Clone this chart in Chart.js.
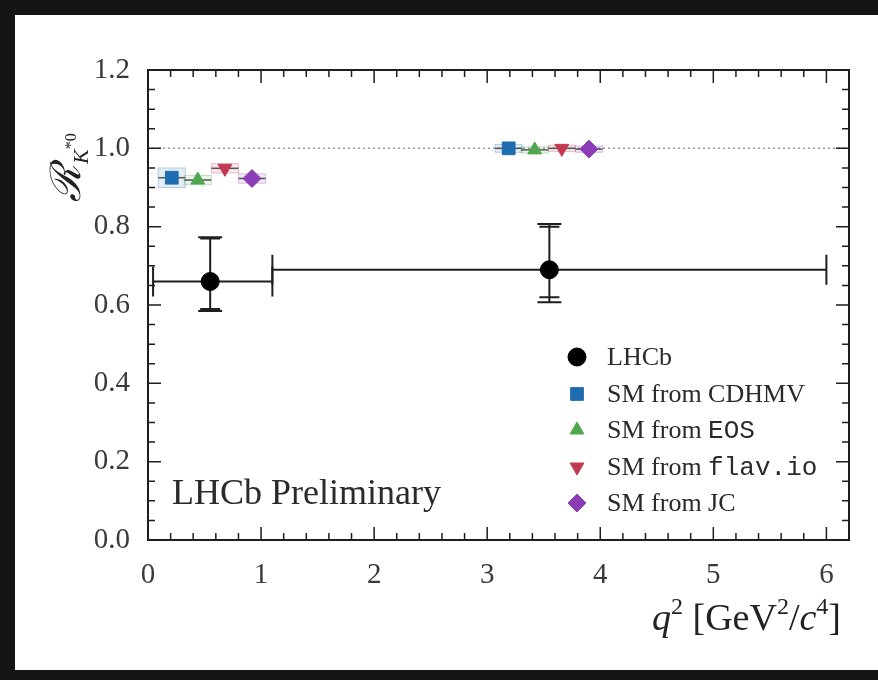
<!DOCTYPE html>
<html>
<head>
<meta charset="utf-8">
<script src="https://cdn.jsdelivr.net/npm/chart.js@4.4.1/dist/chart.umd.min.js"></script>
<style>
  html, body { margin: 0; padding: 0; background: #141414; }
  #wrap { width: 878px; height: 680px; }
</style>
</head>
<body>
<div id="wrap"><canvas id="c" width="878" height="680"></canvas></div>
<script>
// ---------- data ----------
const xTickValues = [0, 1, 2, 3, 4, 5, 6];
const xTickLabels = ['0', '1', '2', '3', '4', '5', '6'];
const yTickValues = [0.0, 0.2, 0.4, 0.6, 0.8, 1.0, 1.2];
const yTickLabels = ['0.0', '0.2', '0.4', '0.6', '0.8', '1.0', '1.2'];

// LHCb measurement
const lhcbQ2     = [0.55, 3.55];
const lhcbQ2Lo   = [0.045, 1.1];
const lhcbQ2Hi   = [1.1, 6.0];
const lhcbR      = [0.66, 0.69];
const lhcbStatUp = [0.11, 0.11];
const lhcbStatDn = [0.07, 0.07];
const lhcbTotUp  = [0.113, 0.117];
const lhcbTotDn  = [0.075, 0.083];

// SM predictions
const cdhmvQ2 = [0.21, 3.19]; const cdhmvR = [0.925, 1.000]; const cdhmvErr = [0.025, 0.010];
const eosQ2   = [0.44, 3.42]; const eosR   = [0.919, 0.996]; const eosErr   = [0.012, 0.008];
const flavQ2  = [0.68, 3.66]; const flavR  = [0.949, 1.000]; const flavErr  = [0.012, 0.008];
const jcQ2    = [0.92, 3.90]; const jcR    = [0.923, 0.998]; const jcErr    = [0.012, 0.008];
const smHalfWidth = 0.12;

const legendSerif = ['LHCb', 'SM from ', 'SM from ', 'SM from ', 'SM from '];
const legendMono  = ['', 'CDHMV', 'EOS', 'flav.io', 'JC'];
const legendMonoIsTT = [false, false, true, true, false];

// ---------- helpers ----------
const pts = (xs, ys) => xs.map((x, i) => ({ x: x, y: ys[i] }));
const SERIF = '"Liberation Serif", "DejaVu Serif", serif';
const MONO = '"Liberation Mono", "DejaVu Sans Mono", monospace';

const datasets = [
  { label: 'LHCb', data: pts(lhcbQ2, lhcbR), pointStyle: 'circle', pointRadius: 9,
    backgroundColor: '#000000', borderColor: '#000000', pointRotation: 0 },
  { label: 'CDHMV', data: pts(cdhmvQ2, cdhmvR), pointStyle: 'rect', pointRadius: 9,
    backgroundColor: '#1f6cb0', borderColor: '#1f6cb0', pointRotation: 0, err: cdhmvErr },
  { label: 'EOS', data: pts(eosQ2, eosR), pointStyle: 'triangle', pointRadius: 8,
    backgroundColor: '#4fa64f', borderColor: '#4fa64f', pointRotation: 0, err: eosErr },
  { label: 'flav.io', data: pts(flavQ2, flavR), pointStyle: 'triangle', pointRadius: 8,
    backgroundColor: '#c23a52', borderColor: '#c23a52', pointRotation: 180, err: flavErr },
  { label: 'JC', data: pts(jcQ2, jcR), pointStyle: 'rectRot', pointRadius: 9,
    backgroundColor: '#8a3db4', borderColor: '#8a3db4', pointRotation: 0, err: jcErr }
];
datasets.forEach(d => { d.pointBorderWidth = 1; d.showLine = false; });

function hexA(hex, a) {
  const n = parseInt(hex.slice(1), 16);
  return 'rgba(' + ((n >> 16) & 255) + ',' + ((n >> 8) & 255) + ',' + (n & 255) + ',' + a + ')';
}

const decoPlugin = {
  id: 'deco',
  beforeDraw(chart) {
    const ctx = chart.ctx;
    ctx.save();
    ctx.fillStyle = '#141414';
    ctx.fillRect(0, 0, chart.width, chart.height);
    ctx.fillStyle = '#ffffff';
    ctx.fillRect(15, 15, chart.width - 15, 655);
    ctx.restore();
  },
  beforeDatasetsDraw(chart) {
    const ctx = chart.ctx, xs = chart.scales.x, ys = chart.scales.y, a = chart.chartArea;
    ctx.save();
    // reference line at 1
    ctx.strokeStyle = '#9a9a9a';
    ctx.lineWidth = 1.5;
    ctx.setLineDash([2, 3]);
    ctx.beginPath();
    ctx.moveTo(a.left, ys.getPixelForValue(1.0));
    ctx.lineTo(a.right, ys.getPixelForValue(1.0));
    ctx.stroke();
    ctx.setLineDash([]);
    // SM boxes
    chart.data.datasets.forEach(ds => {
      if (!ds.err) return;
      ds.data.forEach((p, i) => {
        const x0 = xs.getPixelForValue(p.x - smHalfWidth), x1 = xs.getPixelForValue(p.x + smHalfWidth);
        const y0 = ys.getPixelForValue(p.y + ds.err[i]), y1 = ys.getPixelForValue(p.y - ds.err[i]);
        ctx.fillStyle = hexA(ds.backgroundColor, 0.12);
        ctx.fillRect(x0, y0, x1 - x0, y1 - y0);
        ctx.strokeStyle = hexA(ds.backgroundColor, 0.3);
        ctx.lineWidth = 1;
        ctx.strokeRect(x0, y0, x1 - x0, y1 - y0);
        ctx.strokeStyle = '#555555';
        ctx.lineWidth = 1.5;
        const yc = ys.getPixelForValue(p.y);
        ctx.beginPath(); ctx.moveTo(x0, yc); ctx.lineTo(x1, yc); ctx.stroke();
      });
    });
    // LHCb error bars
    ctx.strokeStyle = '#1e1e1e';
    ctx.lineWidth = 2;
    lhcbQ2.forEach((q, i) => {
      const xc = xs.getPixelForValue(q), yc = ys.getPixelForValue(lhcbR[i]);
      const xl = xs.getPixelForValue(lhcbQ2Lo[i]), xh = xs.getPixelForValue(lhcbQ2Hi[i]);
      ctx.beginPath();
      ctx.moveTo(xl, yc); ctx.lineTo(xh, yc);
      ctx.moveTo(xl, yc - 15); ctx.lineTo(xl, yc + 15);
      ctx.moveTo(xh, yc - 15); ctx.lineTo(xh, yc + 15);
      const yt = ys.getPixelForValue(lhcbR[i] + lhcbTotUp[i]);
      const yb = ys.getPixelForValue(lhcbR[i] - lhcbTotDn[i]);
      const yst = ys.getPixelForValue(lhcbR[i] + lhcbStatUp[i]);
      const ysb = ys.getPixelForValue(lhcbR[i] - lhcbStatDn[i]);
      ctx.moveTo(xc, yt); ctx.lineTo(xc, yb);
      ctx.moveTo(xc - 12, yt); ctx.lineTo(xc + 12, yt);
      ctx.moveTo(xc - 12, yb); ctx.lineTo(xc + 12, yb);
      ctx.moveTo(xc - 10, yst); ctx.lineTo(xc + 10, yst);
      ctx.moveTo(xc - 10, ysb); ctx.lineTo(xc + 10, ysb);
      ctx.stroke();
    });
    ctx.restore();
  },
  afterDraw(chart) {
    const ctx = chart.ctx, xs = chart.scales.x, ys = chart.scales.y, a = chart.chartArea;
    ctx.save();
    // frame
    ctx.strokeStyle = '#1e1e1e';
    ctx.lineWidth = 2;
    ctx.strokeRect(a.left, a.top, a.right - a.left, a.bottom - a.top);
    // ticks
    ctx.lineWidth = 1.5;
    ctx.beginPath();
    for (let k = 0; k <= 31; k++) {
      const v = k * 0.2;
      if (v > xs.max + 1e-9) break;
      const major = k % 5 === 0;
      const L = major ? 13 : 7;
      const px = xs.getPixelForValue(v);
      ctx.moveTo(px, a.bottom); ctx.lineTo(px, a.bottom - L);
      ctx.moveTo(px, a.top); ctx.lineTo(px, a.top + L);
    }
    for (let k = 0; k <= 24; k++) {
      const v = k * 0.05;
      const major = k % 4 === 0;
      const L = major ? 13 : 7;
      const py = ys.getPixelForValue(v);
      ctx.moveTo(a.left, py); ctx.lineTo(a.left + L, py);
      ctx.moveTo(a.right, py); ctx.lineTo(a.right - L, py);
    }
    ctx.stroke();

    // LHCb Preliminary
    ctx.fillStyle = '#2a2a2a';
    ctx.textBaseline = 'alphabetic';
    ctx.textAlign = 'left';
    ctx.font = '36px ' + SERIF;
    ctx.fillText('LHCb Preliminary', 172, 504);

    // legend
    const rowsY = [357, 394, 430, 467, 503];
    const H = Chart.helpers;
    chart.data.datasets.forEach((ds, i) => {
      const y = rowsY[i];
      ctx.fillStyle = ds.backgroundColor;
      ctx.strokeStyle = ds.borderColor;
      ctx.lineWidth = 1;
      if (H && H.drawPoint) {
        H.drawPoint(ctx, { pointStyle: ds.pointStyle, radius: ds.pointRadius, rotation: ds.pointRotation, borderWidth: 1 }, 577, y);
      }
      ctx.fillStyle = '#2a2a2a';
      ctx.textBaseline = 'middle';
      ctx.font = '26px ' + SERIF;
      ctx.fillText(legendSerif[i], 607, y + 1);
      const w = ctx.measureText(legendSerif[i]).width;
      if (legendMono[i]) {
        ctx.font = (legendMonoIsTT[i] ? '26px ' + MONO : '26px ' + SERIF);
        ctx.fillText(legendMono[i], 607 + w, y + 1);
      }
    });

    // x axis title: q^2 [GeV^2/c^4]
    const parts = [
      { t: 'q', f: 'italic 38px ' + SERIF, dy: 0 },
      { t: '2', f: '24px ' + SERIF, dy: -16 },
      { t: ' [GeV', f: '38px ' + SERIF, dy: 0 },
      { t: '2', f: '24px ' + SERIF, dy: -16 },
      { t: '/', f: '38px ' + SERIF, dy: 0 },
      { t: 'c', f: 'italic 38px ' + SERIF, dy: 0 },
      { t: '4', f: '24px ' + SERIF, dy: -16 },
      { t: ']', f: '38px ' + SERIF, dy: 0 }
    ];
    let tw = 0;
    parts.forEach(p => { ctx.font = p.f; p.w = ctx.measureText(p.t).width; tw += p.w; });
    let cx = 841 - tw;
    ctx.textBaseline = 'alphabetic';
    ctx.fillStyle = '#222';
    parts.forEach(p => { ctx.font = p.f; ctx.fillText(p.t, cx, 630 + p.dy); cx += p.w; });

    // y axis title: R_{K*0}
    ctx.save();
    ctx.translate(80, 202);
    ctx.rotate(-Math.PI / 2);
    ctx.font = 'italic 42px ' + SERIF;
    ctx.fillText('\u211B', 0, 0);
    const wR = ctx.measureText('\u211B').width;
    ctx.font = 'italic 22px ' + SERIF;
    ctx.fillText('K', wR + 1, 8);
    const wK = ctx.measureText('K').width;
    ctx.font = '16px ' + SERIF;
    ctx.fillText('*0', wR + wK + 1, -4);
    ctx.restore();

    ctx.restore();
  }
};

new Chart(document.getElementById('c'), {
  type: 'scatter',
  data: { datasets: datasets },
  options: {
    responsive: false,
    animation: false,
    events: [],
    layout: { padding: { top: 70, right: 29, left: 0, bottom: 0 } },
    plugins: { legend: { display: false }, tooltip: { enabled: false } },
    scales: {
      x: {
        type: 'linear', min: 0, max: 6.2,
        grid: { display: false }, border: { display: false },
        ticks: {
          includeBounds: false, padding: 10, color: '#3a3a3a',
          font: { family: SERIF, size: 29 },
          callback: (v) => { const i = xTickValues.indexOf(v); return i >= 0 ? xTickLabels[i] : ''; }
        },
        afterBuildTicks: (s) => { s.ticks = xTickValues.map(v => ({ value: v })); },
        afterFit: (s) => { s.height = 140; }
      },
      y: {
        type: 'linear', min: 0, max: 1.2,
        grid: { display: false }, border: { display: false },
        ticks: {
          includeBounds: false, padding: 10, color: '#3a3a3a',
          font: { family: SERIF, size: 29 },
          callback: (v) => { const i = yTickValues.findIndex(t => Math.abs(t - v) < 1e-9); return i >= 0 ? yTickLabels[i] : ''; }
        },
        afterBuildTicks: (s) => { s.ticks = yTickValues.map(v => ({ value: v })); },
        afterFit: (s) => { s.width = 148; }
      }
    }
  },
  plugins: [decoPlugin]
});
</script>
</body>
</html>
